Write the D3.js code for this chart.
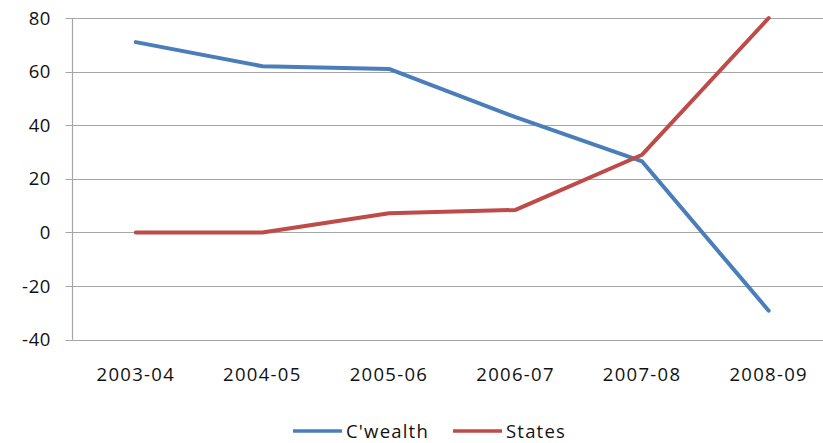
<!DOCTYPE html>
<html>
<head>
<meta charset="utf-8">
<script src="https://cdn.jsdelivr.net/npm/d3@7"></script>
<style>
  html, body { margin: 0; padding: 0; background: #fff; }
  svg { display: block; }
  text { font-family: "Open Sans", "DejaVu Sans", sans-serif; fill: #111; }
</style>
</head>
<body>
<svg id="chart" width="823" height="443"></svg>
<script>
// Fiscal years on the category axis
const years = ["2003-04", "2004-05", "2005-06", "2006-07", "2007-08", "2008-09"];
// Series values
const cwealth = [71, 62, 61, 43, 26.5, -29.2];
const states = [0, 0, 7.2, 8.4, 29, 80];
// Value axis ticks
const yTicks = [-40, -20, 0, 20, 40, 60, 80];

const seriesNames = ["C'wealth", "States"];
const seriesColors = ["#4a7ebb", "#be4b48"];

const svg = d3.select("#chart");
const plot = { left: 72.5, right: 832, top: 18, bottom: 339.7 };

const x = d3.scalePoint().domain(years).range([plot.left, plot.right]).padding(0.5);
const y = d3.scaleLinear().domain([-40, 80]).range([plot.bottom, plot.top]);

// Horizontal gridlines
svg.append("g")
  .selectAll("line")
  .data(yTicks)
  .join("line")
  .attr("x1", plot.left - 7)
  .attr("x2", plot.right)
  .attr("y1", d => Math.round(y(d)) + 0.5)
  .attr("y2", d => Math.round(y(d)) + 0.5)
  .attr("stroke", "#a6a6a6")
  .attr("stroke-width", 1.2);

// Value axis line
svg.append("line")
  .attr("x1", plot.left).attr("x2", plot.left)
  .attr("y1", y(80)).attr("y2", y(-40))
  .attr("stroke", "#a6a6a6").attr("stroke-width", 1.2);

// Value axis labels
svg.append("g")
  .selectAll("text")
  .data(yTicks)
  .join("text")
  .attr("x", 51)
  .attr("y", d => y(d) + 6.5)
  .attr("text-anchor", "end")
  .attr("font-size", 18.5)
  .attr("letter-spacing", 0.6)
  .text(d => d);

// Category labels
svg.append("g")
  .selectAll("text")
  .data(years)
  .join("text")
  .attr("x", d => x(d))
  .attr("y", 380.5)
  .attr("text-anchor", "middle")
  .attr("font-size", 18.5)
  .attr("letter-spacing", 1.3)
  .text(d => d);

// Series lines
const line = d3.line().x((d, i) => x(years[i])).y(d => y(d));
[cwealth, states].forEach((vals, k) => {
  svg.append("path")
    .datum(vals)
    .attr("d", line)
    .attr("fill", "none")
    .attr("stroke", seriesColors[k])
    .attr("stroke-width", 4)
    .attr("stroke-linejoin", "round")
    .attr("stroke-linecap", "round");
});

// Legend
const legendX = [293, 453];
seriesNames.forEach((name, k) => {
  const g = svg.append("g").attr("transform", `translate(${legendX[k]},431)`);
  g.append("line").attr("x1", 0).attr("x2", 49).attr("y1", 0).attr("y2", 0)
    .attr("stroke", seriesColors[k]).attr("stroke-width", 3.5);
  g.append("text").attr("x", 53).attr("y", 6.5).attr("font-size", 18.5)
    .attr("letter-spacing", 1.2).text(name);
});
</script>
</body>
</html>
